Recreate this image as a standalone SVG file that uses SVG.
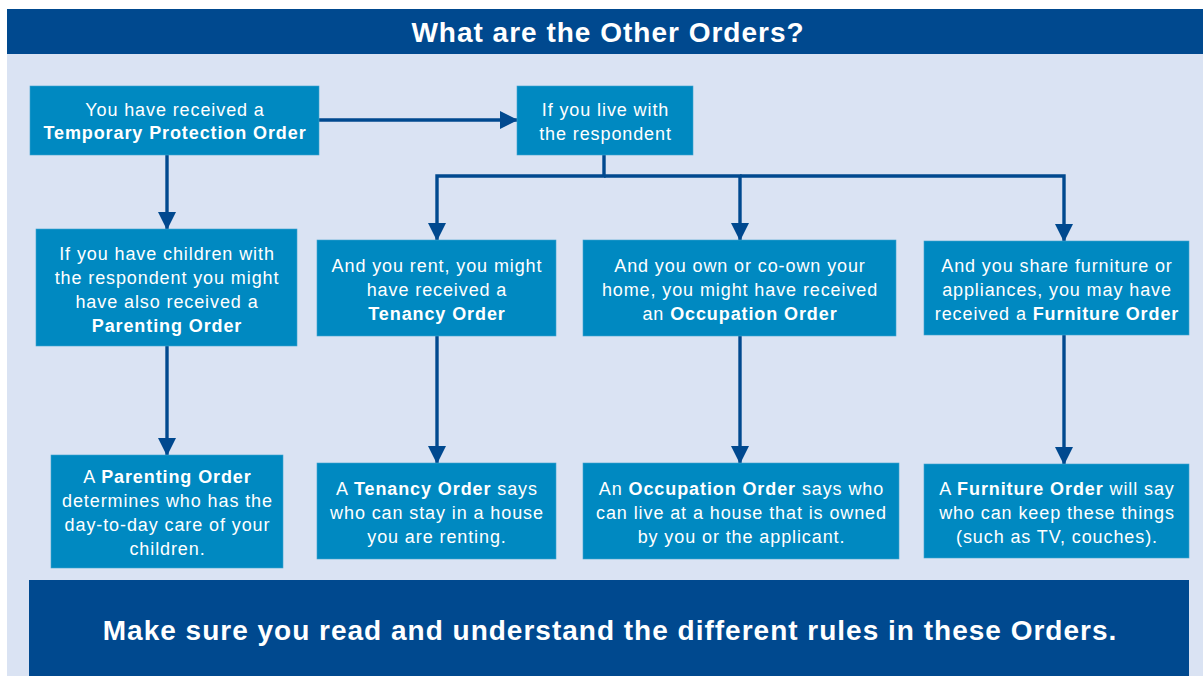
<svg xmlns="http://www.w3.org/2000/svg" width="1203" height="676" viewBox="0 0 1203 676">
  <style>
    .box { fill: #0089C1; stroke: #3FA3D1; stroke-width: 0.6; }
    .t { font-family: "Liberation Sans", Arial, sans-serif; font-size: 18px; fill: #FFFFFF; text-anchor: middle; letter-spacing: 0.9px; }
    .b { font-weight: bold; }
    .conn { fill: none; stroke: #00498F; stroke-width: 3.4; }
    .title { font-family: "Liberation Sans", Arial, sans-serif; font-weight: bold; fill: #FFFFFF; text-anchor: middle; font-size: 28px; letter-spacing: 1px; }
  </style>
  <defs>
    <marker id="arr" viewBox="0 0 18 18" refX="17" refY="9" markerWidth="18" markerHeight="18" markerUnits="userSpaceOnUse" orient="auto">
      <path d="M0,0 L18,9 L0,18 Z" fill="#00498F"/>
    </marker>
  </defs>
  <rect x="0" y="0" width="1203" height="676" fill="#FFFFFF"/>
  <rect x="7" y="54" width="1196" height="622" fill="#DAE3F3"/>
  <g id="header">
    <rect x="7" y="9" width="1196" height="45" fill="#00498F"/>
    <text class="title" x="608" y="42">What are the Other Orders?</text>
  </g>

  <g id="connectors">
    <path class="conn" d="M319,120 H517" marker-end="url(#arr)"/>
    <path class="conn" d="M167,155 V229" marker-end="url(#arr)"/>
    <path class="conn" d="M167,346 V455" marker-end="url(#arr)"/>
    <path class="conn" d="M604,155 V176 H437 V240" marker-end="url(#arr)"/>
    <path class="conn" d="M604,176 H740 V240" marker-end="url(#arr)"/>
    <path class="conn" d="M740,176 H1064 V241" marker-end="url(#arr)"/>
    <path class="conn" d="M437,336 V463" marker-end="url(#arr)"/>
    <path class="conn" d="M740,336 V463" marker-end="url(#arr)"/>
    <path class="conn" d="M1064,335 V464" marker-end="url(#arr)"/>
  </g>

  <g id="tpo">
    <rect class="box" x="30" y="86" width="289" height="69"/>
    <text class="t" x="175" y="116">You have received a</text>
    <text class="t b" x="175" y="139">Temporary Protection Order</text>
  </g>
  <g id="live">
    <rect class="box" x="517" y="86" width="176" height="69"/>
    <text class="t" x="605.5" y="116">If you live with</text>
    <text class="t" x="605.5" y="140">the respondent</text>
  </g>
  <g id="parenting-q">
    <rect class="box" x="36" y="229" width="261" height="117"/>
    <text class="t" x="167" y="260">If you have children with</text>
    <text class="t" x="167" y="284">the respondent you might</text>
    <text class="t" x="167" y="308">have also received a</text>
    <text class="t b" x="167" y="332">Parenting Order</text>
  </g>
  <g id="parenting-a">
    <rect class="box" x="51" y="455" width="232" height="113"/>
    <text class="t" x="167.5" y="483">A <tspan class="b">Parenting Order</tspan></text>
    <text class="t" x="167.5" y="507">determines who has the</text>
    <text class="t" x="167.5" y="531">day-to-day care of your</text>
    <text class="t" x="167.5" y="555">children.</text>
  </g>
  <g id="tenancy-q">
    <rect class="box" x="317" y="240" width="239" height="96"/>
    <text class="t" x="437" y="272">And  you rent, you might</text>
    <text class="t" x="437" y="296">have received a</text>
    <text class="t b" x="437" y="320">Tenancy Order</text>
  </g>
  <g id="occupation-q">
    <rect class="box" x="583" y="240" width="313" height="96"/>
    <text class="t" x="740" y="272">And  you own or co-own your</text>
    <text class="t" x="740" y="296">home, you might have received</text>
    <text class="t" x="740" y="320">an <tspan class="b">Occupation Order</tspan></text>
  </g>
  <g id="furniture-q">
    <rect class="box" x="924" y="241" width="265" height="94"/>
    <text class="t" x="1057" y="272">And  you share furniture  or</text>
    <text class="t" x="1057" y="296">appliances, you may have</text>
    <text class="t" x="1057" y="320">received a <tspan class="b">Furniture Order</tspan></text>
  </g>
  <g id="tenancy-a">
    <rect class="box" x="317" y="463" width="239" height="96"/>
    <text class="t" x="437" y="495">A <tspan class="b">Tenancy Order</tspan> says</text>
    <text class="t" x="437" y="519">who can stay in a house</text>
    <text class="t" x="437" y="543">you are renting.</text>
  </g>
  <g id="occupation-a">
    <rect class="box" x="583" y="463" width="316" height="96"/>
    <text class="t" x="741.5" y="495">An <tspan class="b">Occupation Order</tspan> says who</text>
    <text class="t" x="741.5" y="519">can live at a house that is owned</text>
    <text class="t" x="741.5" y="543">by you or the applicant.</text>
  </g>
  <g id="furniture-a">
    <rect class="box" x="924" y="464" width="265" height="94"/>
    <text class="t" x="1057" y="495">A <tspan class="b">Furniture Order</tspan> will say</text>
    <text class="t" x="1057" y="519">who can keep these things</text>
    <text class="t" x="1057" y="543">(such as TV, couches).</text>
  </g>
  <g id="footer">
    <rect x="29" y="580" width="1160" height="96" fill="#00498F"/>
    <text class="title" x="610" y="640">Make sure you read and understand the different rules in these Orders.</text>
  </g>
</svg>
